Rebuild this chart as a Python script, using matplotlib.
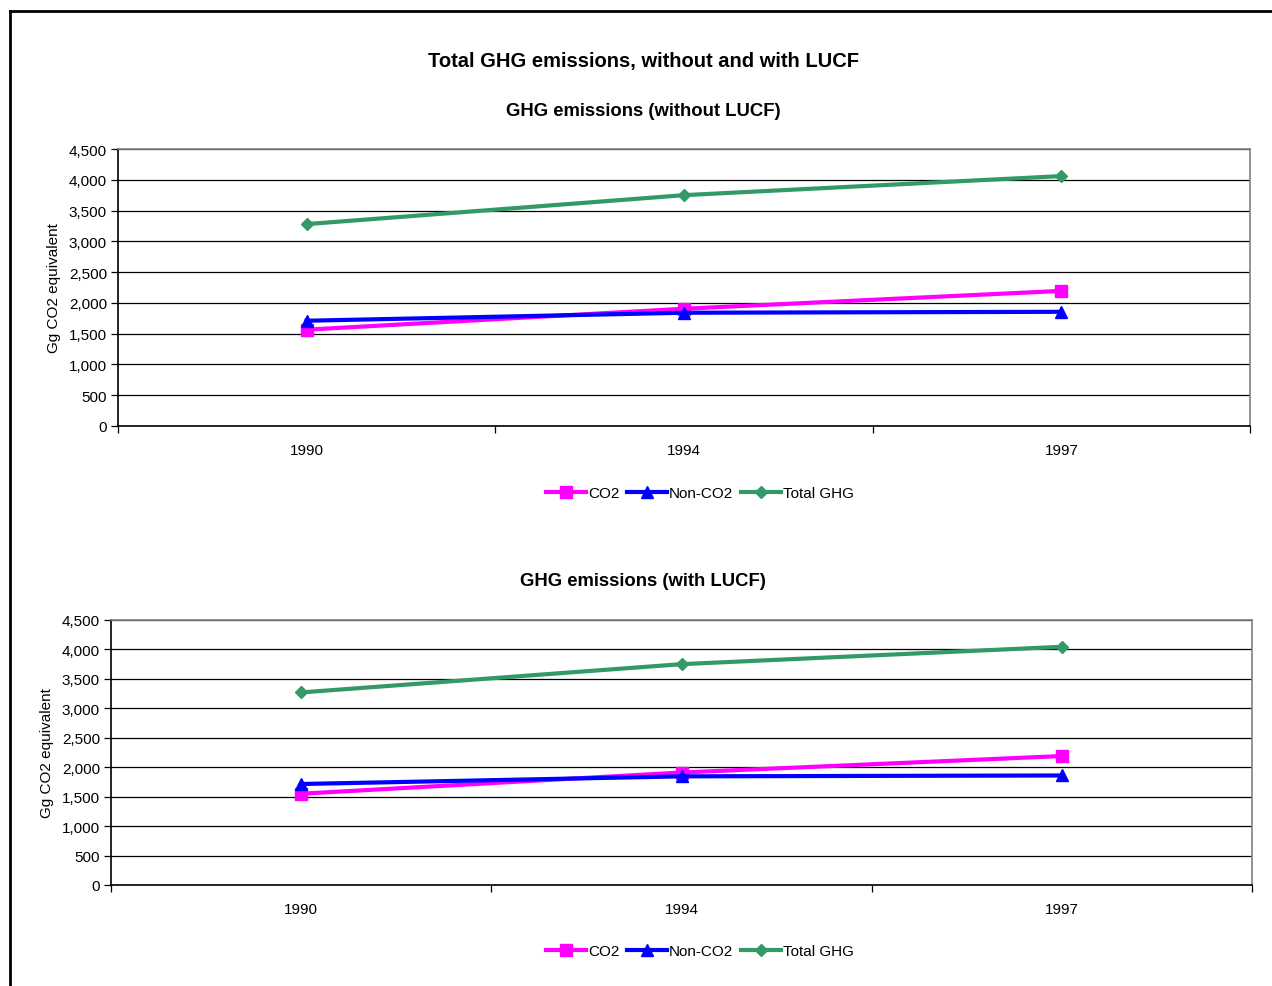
import numpy as np
import matplotlib
matplotlib.use("Agg")
import matplotlib.pyplot as plt
from matplotlib.lines import Line2D
from matplotlib.ticker import FuncFormatter

plt.rcParams['font.family'] = ['Liberation Sans', 'DejaVu Sans']

# Data (Gg CO2 equivalent)
years = ['1990', '1994', '1997']
co2_without = [1565, 1905, 2195]
nonco2_without = [1710, 1840, 1855]
total_without = [3280, 3750, 4060]

co2_with = [1550, 1910, 2190]
nonco2_with = [1715, 1845, 1860]
total_with = [3270, 3750, 4045]

series_names = ['CO2', 'Non-CO2', 'Total GHG']
colors = ['#FF00FF', '#0000FF', '#339966']
markers = ['s', '^', 'D']
msizes = [9, 9, 6.5]

W, H = 1272, 987
fig = plt.figure(figsize=(W / 100, H / 100), dpi=100)

# outer frame (left and top edges visible in the original)
fig.add_artist(Line2D([10 / W, 10 / W], [0, 1 - 12 / H], color='black', lw=2))
fig.add_artist(Line2D([10 / W, 1], [1 - 12 / H, 1 - 12 / H], color='black', lw=2))

fig.text(643 / W, 1 - 62 / H, 'Total GHG emissions, without and with LUCF',
         ha='center', va='center', fontsize=14.5, fontweight='bold')


def draw_panel(rect, subtitle, sub_y, series, ylabel_x, legend_y):
    ax = fig.add_axes(rect)
    x = np.arange(len(years))
    handles = []
    for vals, name, c, m, ms in zip(series, series_names, colors, markers, msizes):
        h, = ax.plot(x, vals, color=c, lw=3, marker=m, markersize=ms,
                     markerfacecolor=c, markeredgecolor=c, label=name, zorder=3)
        handles.append(h)

    ax.set_xlim(-0.5, len(years) - 0.5)
    ax.set_ylim(0, 4500)
    ax.set_yticks(np.arange(0, 4501, 500))
    ax.yaxis.set_major_formatter(FuncFormatter(lambda v, p: f'{int(v):,}'))
    ax.yaxis.grid(True, color='black', lw=0.9)
    ax.set_axisbelow(True)

    ax.set_xticks(x)
    ax.set_xticklabels(years)
    ax.tick_params(axis='x', which='major', length=0, pad=12, labelsize=11)
    ax.set_xticks(np.arange(-0.5, len(years)), minor=True)
    ax.tick_params(axis='x', which='minor', length=5, direction='out', width=0.9)
    ax.tick_params(axis='y', length=5, direction='out', width=0.9, labelsize=11, pad=3)

    ax.spines['left'].set_color('black')
    ax.spines['bottom'].set_color('black')
    ax.spines['top'].set_color('#808080')
    ax.spines['right'].set_color('#808080')
    for s in ax.spines.values():
        s.set_linewidth(1.2)

    ax.set_ylabel('Gg CO2 equivalent', fontsize=11)
    ax.yaxis.set_label_coords((ylabel_x - rect[0] * W) / (rect[2] * W), 0.5)

    fig.text(643 / W, 1 - sub_y / H, subtitle,
             ha='center', va='center', fontsize=13.3, fontweight='bold')

    fig.legend(handles=handles, loc='center', bbox_to_anchor=(700 / W, 1 - legend_y / H),
               ncol=3, frameon=False, fontsize=11, handlelength=2.6,
               handletextpad=0.15, columnspacing=0.5, borderaxespad=0)
    return ax


draw_panel([118 / W, 1 - 427 / H, (1250 - 118) / W, (427 - 150) / H],
           'GHG emissions (without LUCF)', 112,
           [co2_without, nonco2_without, total_without], 61, 494)

draw_panel([111 / W, 1 - 886 / H, (1252 - 111) / W, (886 - 621) / H],
           'GHG emissions (with LUCF)', 582,
           [co2_with, nonco2_with, total_with], 54, 952)

fig.savefig('out.png', dpi=100, facecolor='white')
